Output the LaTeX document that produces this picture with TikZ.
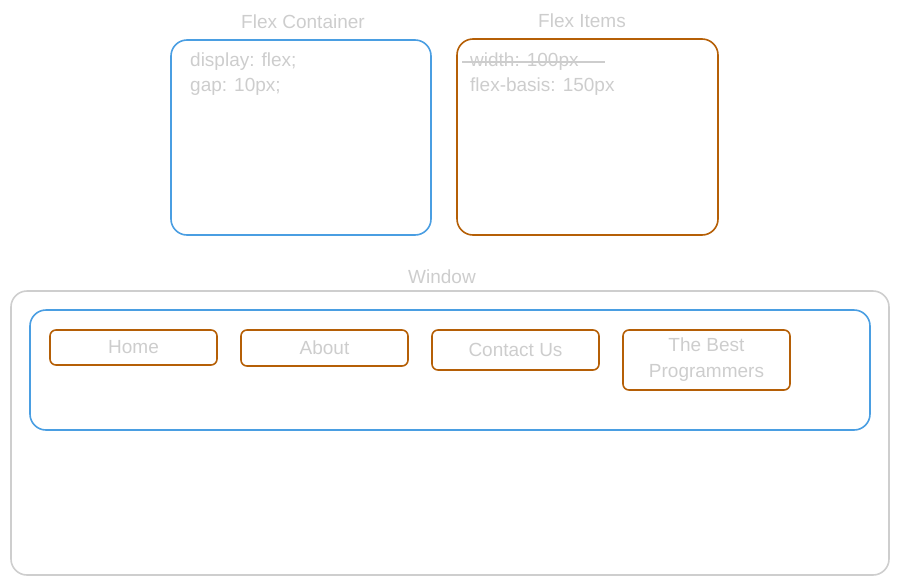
\documentclass[tikz,border=0pt]{standalone}
\usepackage{fontspec}
\setmainfont{Liberation Sans}
\usetikzlibrary{positioning}
\definecolor{boxblue}{RGB}{74,158,226}
\definecolor{itembrown}{RGB}{181,95,6}
\definecolor{winegray}{RGB}{206,206,206}
\definecolor{txtgray}{RGB}{205,205,205}
\tikzset{
  sketch/.style={draw, line width=1.6pt, rounded corners=16pt, inner sep=0pt},
  item/.style={draw=itembrown, line width=1.6pt, rounded corners=6pt, inner sep=0pt,
    minimum width=167pt, align=center, font=\fontsize{19}{26}\selectfont, text=txtgray},
  lbl/.style={text=txtgray, font=\fontsize{19}{22}\selectfont, inner sep=0pt},
  code/.style={lbl, anchor=west}
}
\begin{document}
\begin{tikzpicture}[x=1pt,y=-1pt]
\useasboundingbox (0,0) rectangle (900,584);
% top boxes
\begin{scope}
  \node[sketch, draw=boxblue, minimum width=260pt, minimum height=195pt] (cont) at (301,137.5) {};
  \node[sketch, draw=itembrown, minimum width=261pt, minimum height=196pt] (items) at (587.5,137) {};
  \node[lbl] (contlbl) at (303,22) {Flex Container};
  \node[lbl] (itemslbl) at (582,21) {Flex Items};
  \node[code] (disp) at (190,62) {display: flex;};
  \node[code] (gap) at (190,87) {gap: 10px;};
  \node[code] (wid) at (470,62) {width: 100px};
  \node[code] (basis) at (470,87) {flex-basis: 150px};
  \draw[txtgray, line width=2pt] ([xshift=-8pt]wid.west) -- ([xshift=26pt]wid.east);
\end{scope}
% window with flex row
\begin{scope}
  \node[sketch, draw=winegray, minimum width=878pt, minimum height=284pt] (win) at (450,433) {};
  \node[lbl] (winlbl) at (442,277) {Window};
  \node[sketch, draw=boxblue, minimum width=840pt, minimum height=120pt] (row) at (450,370) {};
  \node[item, minimum height=35pt] (home) at (133.5,347.5) {Home};
  \node[item, minimum height=36pt] (about) at (324.5,348) {About};
  \node[item, minimum height=40pt] (contact) at (515.5,350) {Contact Us};
  \node[item, minimum height=60pt] (best) at (706.5,360) {The Best\\Programmers};
\end{scope}
\end{tikzpicture}
\end{document}
